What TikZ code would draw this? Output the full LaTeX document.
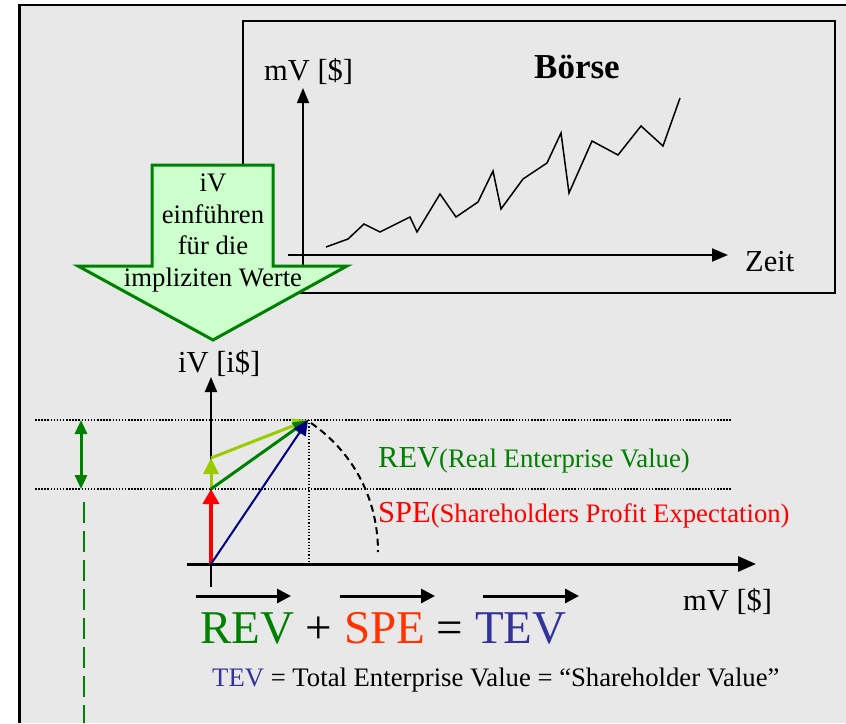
\documentclass[tikz,border=0pt]{standalone}
\usepackage{fontspec}
\setmainfont{Liberation Serif}
\usetikzlibrary{arrows.meta}
\definecolor{bggray}{RGB}{232,232,232}
\definecolor{dkgreen}{RGB}{0,128,0}
\definecolor{ygreen}{RGB}{153,204,0}
\definecolor{navyblue}{RGB}{0,0,128}
\definecolor{tevblue}{RGB}{51,51,153}
\definecolor{speor}{RGB}{255,51,0}
\definecolor{ltgreen}{RGB}{204,255,204}
\begin{document}
\begin{tikzpicture}[x=1pt,y=-1pt,
  big/.style={inner sep=0pt,font=\fontsize{30.5}{36}\selectfont},
  small/.style={inner sep=0pt,font=\fontsize{26.7}{32}\selectfont},
  axis/.style={line width=#1,-{Triangle[length=15pt,width=12pt]}},
  vec/.style={line width=3pt,-{Triangle[length=14pt,width=14pt]}},
  dotline/.style={line width=2pt,dash pattern=on 1.5pt off 1.6pt},
  tip/.style={-{Triangle[length=15pt,width=14pt]}}]
\useasboundingbox (0,0) rectangle (846,723);
\fill[white] (0,0) rectangle (846,723);
\fill[bggray] (19.5,5) rectangle (846,723);
\draw[line width=2.5pt] (19.5,723) -- (19.5,5) -- (846,5);
% Boerse panel
\draw[line width=2pt] (243,21) rectangle (835,293);
\coordinate (by0) at (303,285);
\coordinate (by1) at (303,88);
\coordinate (bx0) at (288,255);
\coordinate (bx1) at (728,255);
\draw[axis=1.5pt] (by0) -- (by1);
\draw[line width=2pt,-{Triangle[length=16pt,width=13pt]}] (bx0) -- (bx1);
\draw[line width=1.5pt,line join=miter] (326,247) -- (348,239) -- (364,224) -- (380,232) -- (410,217) -- (417,232) -- (440,194) -- (456,217) -- (478,202) -- (493,171) -- (501,209) -- (523,179) -- (547,163) -- (561,133) -- (569,193) -- (592,141) -- (618,155) -- (641,126) -- (663,146) -- (680,98);
\node[big,anchor=base west] (mvtop) at (264,80) {mV [\$]};
\node[inner sep=0pt,anchor=base,font=\fontsize{35}{40}\selectfont\bfseries] (boerse) at (577,78) {Börse};
\node[big,anchor=base west] (zeit) at (745,271) {Zeit};
% big green arrow
\draw[dkgreen,fill=ltgreen,line width=3pt,line join=miter]
  (152,165) -- (273,165) -- (273,266) -- (347,266) -- (213,340) -- (78,266) -- (152,266) -- cycle;
\node[small,anchor=base] (t1) at (213,191) {iV};
\node[small,anchor=base] (t2) at (213,223) {einführen};
\node[small,anchor=base] (t3) at (213,254) {für die};
\node[small,anchor=base] (t4) at (213,286) {impliziten Werte};
% lower diagram
\coordinate (O) at (211,564);
\coordinate (S) at (211,489);
\coordinate (Y) at (211,458);
\coordinate (P) at (308,420);
\coordinate (iv0) at (211,587);
\coordinate (iv1) at (211,377);
\coordinate (mv0) at (187,564);
\coordinate (mv1) at (756,564);
\node[big,anchor=base west] (ivlbl) at (178,372) {iV [i\$]};
\draw[dotline] (35,420) -- (732,420);
\draw[dotline] (35,489) -- (732,489);
\draw[line width=1.2pt,dash pattern=on 1.2pt off 2pt] (309,420) -- (309,564);
\draw[axis=2pt] (iv0) -- (iv1);
\draw[line width=3pt,-{Triangle[length=18pt,width=15pt]}] (mv0) -- (mv1);
\draw[line width=2pt,dash pattern=on 7pt off 4.5pt] (311,423) .. controls (350,450) and (378,495) .. (378,552);
\draw[red,line width=4pt,-{Triangle[length=15pt,width=16pt]}] (O) -- (S);
\draw[ygreen,line width=3pt,-{Triangle[length=16pt,width=15pt]}] (S) -- (Y);
\draw[ygreen,line width=3pt,tip] (Y) -- (P);
\draw[dkgreen,line width=3pt,tip] (S) -- (P);
\draw[navyblue,line width=2pt,tip] (O) -- (P);
\coordinate (d0) at (81,420);
\coordinate (d1) at (81,489);
\draw[dkgreen,line width=3pt,{Triangle[length=14pt,width=12pt]}-{Triangle[length=14pt,width=12pt]}] (d0) -- (d1);
\coordinate (g0) at (84,502);
\coordinate (g1) at (84,723);
\draw[dkgreen,line width=2.5pt,dash pattern=on 21pt off 8pt] (g0) -- (g1);
\node[inner sep=0pt,anchor=base west,text=dkgreen] (rev) at (378,467)
  {\fontsize{30.5}{36}\selectfont REV\fontsize{26.7}{32}\selectfont(Real Enterprise Value)};
\node[inner sep=0pt,anchor=base west,text=red] (spe) at (378,522)
  {\fontsize{30.5}{36}\selectfont SPE\fontsize{26.7}{32}\selectfont(Shareholders Profit Expectation)};
% equation
\node[inner sep=0pt,anchor=base west,font=\fontsize{47}{56}\selectfont] (eq) at (200,643)
  {\textcolor{dkgreen}{REV} + \textcolor{speor}{SPE} = \textcolor{tevblue}{TEV}};
\coordinate (a1) at (196,596); \coordinate (b1) at (291,596);
\coordinate (a2) at (340,596); \coordinate (b2) at (435,596);
\coordinate (a3) at (483,596); \coordinate (b3) at (579,596);
\draw[vec] (a1) -- (b1);
\draw[vec] (a2) -- (b2);
\draw[vec] (a3) -- (b3);
\node[big,anchor=base west] (mvbot) at (683,610) {mV [\$]};
\node[small,anchor=base west] (tevdef) at (212,686)
  {\textcolor{tevblue}{TEV} = Total Enterprise Value = “Shareholder Value”};
\end{tikzpicture}
\end{document}
